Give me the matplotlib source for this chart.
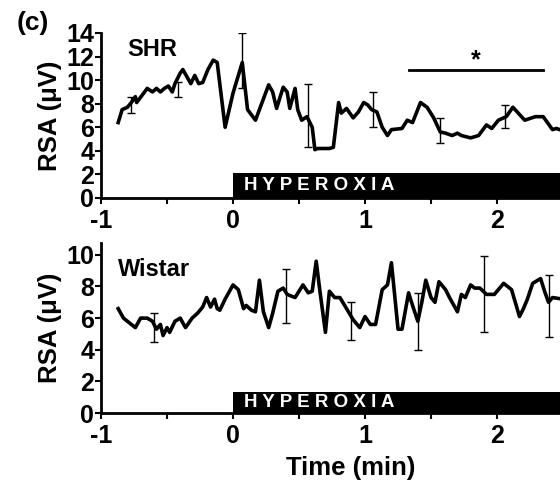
import matplotlib
matplotlib.use("Agg")
import matplotlib.pyplot as plt
from matplotlib.ticker import MultipleLocator

plt.rcParams['font.family'] = ['Liberation Sans', 'DejaVu Sans']
plt.rcParams['font.weight'] = 'bold'
plt.rcParams['axes.unicode_minus'] = False

# SHR trace (time in min, RSA in uV)
shr_t = [-0.87, -0.84, -0.80, -0.77, -0.74, -0.73, -0.69, -0.65, -0.61, -0.58, -0.55, -0.52,
         -0.49, -0.46, -0.44, -0.40, -0.38, -0.35, -0.32, -0.29, -0.26, -0.23, -0.19, -0.15,
         -0.12, -0.06, 0.0, 0.07, 0.11, 0.17, 0.22, 0.27, 0.30, 0.33, 0.38, 0.41, 0.43, 0.47,
         0.49, 0.52, 0.56, 0.60, 0.62, 0.64, 0.73, 0.76, 0.80, 0.82, 0.86, 0.91, 0.95, 0.99,
         1.02, 1.05, 1.09, 1.13, 1.17, 1.20, 1.28, 1.32, 1.36, 1.42, 1.47, 1.52, 1.57, 1.61,
         1.66, 1.70, 1.73, 1.80, 1.86, 1.92, 1.96, 2.01, 2.07, 2.12, 2.21, 2.29, 2.35, 2.42,
         2.45, 2.50]
shr_v = [6.4, 7.5, 7.7, 8.1, 8.6, 8.1, 8.7, 9.3, 9.0, 9.3, 9.0, 9.3,
         9.5, 9.0, 9.7, 10.6, 10.9, 10.3, 9.7, 10.4, 9.7, 9.8, 10.9, 11.7,
         11.5, 6.0, 8.9, 11.5, 7.5, 6.6, 8.1, 9.6, 9.0, 7.6, 9.4, 9.0, 7.6, 9.3,
         7.5, 6.6, 6.9, 6.0, 4.1, 4.2, 4.2, 4.3, 8.1, 7.2, 7.6, 6.8, 7.3, 8.1,
         7.9, 7.5, 7.3, 6.0, 5.3, 5.8, 5.9, 6.6, 6.4, 8.1, 7.7, 6.8, 5.6, 5.5,
         5.3, 5.5, 5.3, 5.1, 5.3, 6.2, 5.9, 6.6, 6.9, 7.7, 6.6, 6.9, 6.9, 5.8,
         5.9, 5.7]
shr_err_t = [-0.77, -0.42, 0.07, 0.57, 1.06, 1.57, 2.06]
shr_err_m = [7.9, 9.2, 11.65, 7.0, 7.5, 5.75, 6.9]
shr_err_e = [0.7, 0.6, 2.35, 2.7, 1.5, 1.05, 1.0]

# Wistar trace
wis_t = [-0.87, -0.83, -0.80, -0.74, -0.70, -0.65, -0.61, -0.58, -0.55, -0.53, -0.50, -0.48,
         -0.44, -0.40, -0.36, -0.31, -0.27, -0.23, -0.20, -0.17, -0.14, -0.12, -0.10, -0.06,
         0.0, 0.04, 0.08, 0.10, 0.14, 0.17, 0.20, 0.23, 0.27, 0.30, 0.34, 0.38, 0.41, 0.47,
         0.53, 0.57, 0.60, 0.63, 0.66, 0.70, 0.73, 0.77, 0.81, 0.86, 0.91, 0.96, 1.00, 1.04,
         1.08, 1.13, 1.17, 1.20, 1.23, 1.25, 1.28, 1.33, 1.36, 1.40, 1.43, 1.46, 1.50, 1.53,
         1.56, 1.61, 1.64, 1.70, 1.73, 1.76, 1.80, 1.83, 1.87, 1.92, 1.98, 2.05, 2.11, 2.17,
         2.20, 2.23, 2.27, 2.33, 2.36, 2.39, 2.42, 2.50]
wis_v = [6.6, 6.0, 5.8, 5.4, 6.0, 6.0, 5.8, 5.3, 5.6, 4.9, 5.4, 5.1,
         5.8, 6.0, 5.4, 6.0, 6.3, 6.7, 7.3, 6.7, 7.2, 6.6, 6.5, 7.2,
         8.1, 7.8, 6.6, 6.8, 6.5, 6.4, 8.4, 6.4, 5.4, 6.3, 7.7, 7.9, 7.5, 7.3,
         8.1, 7.6, 7.7, 9.6, 7.6, 5.1, 7.7, 7.3, 7.3, 6.6, 5.9, 5.4, 6.1, 5.6,
         5.6, 7.8, 8.1, 9.5, 7.0, 5.3, 5.3, 7.6, 6.8, 5.8, 7.0, 8.4, 7.3, 7.0,
         8.3, 7.8, 7.3, 6.4, 7.5, 7.3, 8.1, 7.9, 7.9, 7.5, 7.5, 8.2, 7.8, 6.1,
         6.6, 7.2, 8.2, 8.5, 7.7, 7.0, 7.3, 7.2]
wis_err_t = [-0.60, 0.40, 0.89, 1.40, 1.90, 2.39]
wis_err_m = [5.4, 7.4, 5.8, 5.8, 7.5, 6.75]
wis_err_e = [0.9, 1.7, 1.2, 1.8, 2.4, 1.95]

# significance bar (SHR)
sig_t = [1.33, 2.35]
sig_v = 10.9

panels = [
    dict(name='SHR', t=shr_t, v=shr_v, et=shr_err_t, em=shr_err_m, ee=shr_err_e,
         ylim=(0, 14), bar_h=2.15, name_xy=(-0.80, 12.6)),
    dict(name='Wistar', t=wis_t, v=wis_v, et=wis_err_t, em=wis_err_m, ee=wis_err_e,
         ylim=(0, 10.75), bar_h=1.35, name_xy=(-0.87, 9.05)),
]

fig = plt.figure(figsize=(5.6, 4.86), dpi=100)
ax_top = fig.add_axes([0.1804, 0.5926, 0.8196, 0.3395])
ax_bot = fig.add_axes([0.1804, 0.1502, 0.8196, 0.3498])

for ax, p in zip([ax_top, ax_bot], panels):
    ax.errorbar(p['et'], p['em'], yerr=p['ee'], fmt='none', ecolor='black',
                elinewidth=1.0, capsize=3, capthick=1.0, zorder=2)
    ax.plot(p['t'], p['v'], color='black', lw=2.6, zorder=3)
    ax.fill_between([0, 3], 0, p['bar_h'], color='black', lw=0, zorder=4)
    ax.text(0.08, p['bar_h'] / 2, 'H Y P E R O X I A', color='white', fontsize=13.5,
            fontweight='bold', va='center', ha='left', zorder=5)
    ax.text(p['name_xy'][0], p['name_xy'][1], p['name'], fontsize=17,
            fontweight='bold', va='center', ha='left')
    ax.set_xlim(-1, 2.477)
    ax.set_ylim(*p['ylim'])
    ax.xaxis.set_major_locator(MultipleLocator(1))
    ax.xaxis.set_minor_locator(MultipleLocator(0.5))
    ax.yaxis.set_major_locator(MultipleLocator(2))
    ax.spines['top'].set_visible(False)
    ax.spines['right'].set_visible(False)
    ax.spines['left'].set_linewidth(2)
    ax.spines['bottom'].set_linewidth(2)
    ax.tick_params(which='major', direction='out', length=4, width=1.5, labelsize=18)
    ax.tick_params(axis='y', pad=1)
    ax.tick_params(axis='x', pad=4)
    ax.tick_params(which='minor', direction='out', length=4, width=1.5)
    ax.tick_params(axis='y', which='minor', length=0)
    for lab in ax.get_xticklabels() + ax.get_yticklabels():
        lab.set_fontweight('bold')
    ax.set_ylabel('RSA (μV)', fontsize=18.5, fontweight='bold', labelpad=3)

ax_top.plot(sig_t, [sig_v, sig_v], color='black', lw=2)
ax_top.text(sum(sig_t) / 2, sig_v - 0.2, '*', fontsize=18, fontweight='bold',
            ha='center', va='bottom')

ax_bot.set_xlabel('Time (min)', fontsize=18.5, fontweight='bold')
ax_bot.xaxis.set_label_coords(0.545, -0.25)

fig.text(0.03, 0.953, '(c)', fontsize=19, fontweight='bold', ha='left', va='center')

fig.savefig('out.png', dpi=100)
